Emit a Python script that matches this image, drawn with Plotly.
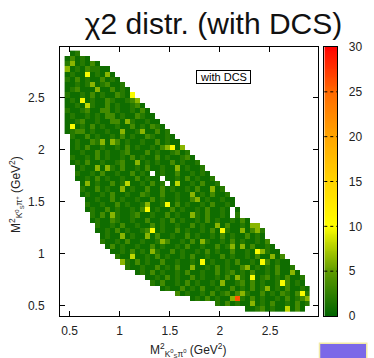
import plotly.graph_objects as go

# ---------------- data ----------------
# binning of the Dalitz histogram (GeV^2)
x_first_bin = 0.45
y_first_bin = 0.45
bin_width = 0.05
n_cols = 49
n_rows = 50          # row 0 = top row (2.90-2.95)

# occupied column range [start, end] for each row (top -> bottom)
row_start = [1, 0, 0, 0, 0, 0, 0, 0, 0, 0,
             0, 0, 0, 0, 0, 0, 1, 1, 1, 1,
             1, 1, 2, 2, 2, 3, 3, 3, 4, 4,
             4, 5, 5, 6, 6, 7, 7, 8, 9, 10,
             11, 12, 14, 16, 17, 19, 22, 25, 30, 36]
row_end = [2, 4, 6, 8, 9, 10, 11, 12, 13, 14,
           15, 16, 17, 18, 19, 20, 21, 22, 23, 24,
           25, 26, 27, 28, 29, 30, 31, 32, 33, 33,
           34, 34, 36, 38, 39, 39, 40, 41, 42, 43,
           44, 45, 46, 47, 47, 48, 48, 48, 48, 47]

# chi2 level codes per cell, relative to row start
level_value = {'0': 0.8, '1': 2.0, '2': 3.5, '3': 6.3, '4': 8.0, '5': 9.8, 'R': 26.0}
texture = [
    "01",
    "02010",
    "1001020",
    "001021100",
    "0100001010",
    "10201002010",
    "001010012001",
    "0120001002010",
    "10010201002100",
    "010001002100120",
    "0010010020100120",
    "10012002201001020",
    "010010102201002100",
    "0012001002200100100",
    "00010201001002010210",
    "012201001000001000201",
    "100201001020100210010",
    "0100210002010010020100",
    "01020010010201001020000",
    "001002010012000201001201",
    "1001020100102010020100120",
    "01020010012000010100201001",
    "01000001020010200100001001",
    "100102001002010001002001010",
    "0010201001002010000010201001",
    "0001002010001020100000102001",
    "10020100001002002010010200001",
    "010010200100210020010000102001",
    "001002010010020100100200100100",
    "100100201001000100201001020010",
    "0100201001020010020100102001000",
    "102001001200100201000102001001",
    "01002100100200102010010201001020",
    "100102001002010010020100102001002",
    "0010201001200100201001020010010201",
    "010020100102001002010010201002010",
    "1001020010010200102001001020100102",
    "0201001002010010200100201001020010",
    "0010201001002010010201002001020100",
    "1002001020100102001002010010200102",
    "0102010020010010201001020010020100",
    "1001002010200100102010020010102001",
    "010201001020010020120102001020010",
    "00102010020100102001020120102001",
    "1020010201001020012020100102010",
    "010020102001002010201201020010",
    "201001020120201002010210201",
    "010201002010201001020120",
    "1020100201020010201",
    "001201001020",
]

# notable cells (row, column, code); ' ' = empty bin
special_cells = [
    (1, 1, '2'), (2, 1, '3'), (3, 0, '3'), (4, 4, '5'), (4, 8, '3'), (6, 5, '3'),
    (7, 6, '3'), (8, 13, '5'), (9, 3, '5'), (9, 14, '3'), (10, 4, '4'), (13, 12, '3'),
    (14, 1, '5'), (15, 11, '3'), (15, 15, '3'), (17, 7, '3'), (17, 9, '3'),
    (18, 20, '3'), (18, 21, '5'), (18, 23, '3'), (21, 14, '3'), (22, 6, '3'),
    (22, 8, '3'), (22, 22, '3'), (23, 17, ' '), (24, 19, ' '), (25, 20, ' '),
    (25, 4, '3'), (25, 12, '4'), (25, 22, '4'), (26, 11, '3'), (26, 29, '3'),
    (27, 25, '3'), (28, 26, '3'), (29, 16, '3'), (29, 20, '5'), (30, 16, '5'),
    (30, 33, ' '), (31, 33, ' '), (31, 9, '3'), (31, 25, '3'), (33, 11, '2'),
    (33, 30, '3'), (33, 37, '3'), (33, 38, '3'), (34, 17, '5'), (34, 31, '5'),
    (34, 35, '3'), (34, 38, '3'), (35, 11, '3'), (35, 16, '3'), (36, 19, '3'),
    (36, 27, '3'), (37, 33, '3'), (37, 35, '3'), (38, 17, '3'), (38, 38, '5'),
    (38, 39, '3'), (39, 13, '4'), (39, 41, '3'), (40, 11, '3'), (40, 27, '5'),
    (40, 39, '5'), (41, 25, '3'), (41, 36, '3'), (42, 45, '3'), (43, 34, '3'),
    (43, 37, '5'), (44, 31, '3'), (44, 43, '5'), (45, 40, '3'), (46, 35, '3'),
    (46, 47, '5'), (47, 33, '3'), (47, 34, 'R'), (47, 48, '3'), (48, 37, '3'),
    (49, 44, '4'),
]

x_ticks = [0.5, 1, 1.5, 2, 2.5]
x_tick_text = ["0.5", "1", "1.5", "2", "2.5"]
y_ticks = [0.5, 1, 1.5, 2, 2.5]
y_tick_text = ["0.5", "1", "1.5", "2", "2.5"]
cb_ticks = [0, 5, 10, 15, 20, 25, 30]
cb_tick_text = ["0", "5", "10", "15", "20", "25", "30"]
cb_min, cb_max = 0, 30

title_text = "χ2 distr. (with DCS)"
key_text = "with DCS"
x_title = "M<sup>2</sup><sub>K<sup>0</sup><sub>S</sub>π<sup>0</sup></sub> (GeV<sup>2</sup>)"
y_title = "M<sup>2</sup><sub>K<sup>0</sup><sub>S</sub>π<sup>+</sup></sub> (GeV<sup>2</sup>)"

# ---------------- build grid ----------------
grid = [[None] * n_cols for _ in range(n_rows)]
for j in range(n_rows):
    s, e = row_start[j], row_end[j]
    t = texture[j]
    for k in range(s, e + 1):
        i = k - s
        c = t[i] if i < len(t) else '0'
        grid[j][k] = level_value.get(c)
for (j, k, c) in special_cells:
    grid[j][k] = level_value.get(c) if c != ' ' else None

x_centers = [round(x_first_bin + bin_width * (k + 0.5), 4) for k in range(n_cols)]
# y: bottom -> top
y_centers = [round(y_first_bin + bin_width * (r + 0.5), 4) for r in range(n_rows)]
z = [grid[n_rows - 1 - r] for r in range(n_rows)]

colorscale = [
    [0.0, "rgb(0,100,0)"],
    [1 / 6, "rgb(95,155,0)"],
    [2 / 6, "rgb(255,255,0)"],
    [3 / 6, "rgb(255,212,0)"],
    [4 / 6, "rgb(255,165,0)"],
    [5 / 6, "rgb(255,105,0)"],
    [1.0, "rgb(255,0,0)"],
]

# ---------------- figure ----------------
W, H = 374, 358
L, R, T, B = 60, 24, 47, 42
PW, PH = W - L - R, H - T - B


def pxx(px):
    return (px - L) / PW


def pyy(py):
    return (H - B - py) / PH


fig = go.Figure()
fig.add_trace(go.Heatmap(
    x=x_centers, y=y_centers, z=z, zmin=cb_min, zmax=cb_max,
    colorscale=colorscale, showscale=False, hoverinfo="skip",
    xaxis="x", yaxis="y",
))

# colour bar drawn as its own small heatmap
cb_levels = [round(0.05 + 0.1 * i, 3) for i in range(300)]
fig.add_trace(go.Heatmap(
    x=[0], y=cb_levels, z=[[v] for v in cb_levels], zmin=cb_min, zmax=cb_max,
    colorscale=colorscale, showscale=False, hoverinfo="skip",
    xaxis="x2", yaxis="y2",
))

tick_font = dict(family="Liberation Sans, Arial, sans-serif", size=12, color="#222")
axis_common = dict(
    showgrid=False, zeroline=False, showline=True, linecolor="black", linewidth=1,
    ticks="inside", ticklen=5, tickwidth=1, tickcolor="black", mirror="ticks",
    tickfont=tick_font,
)

fig.update_layout(
    width=W, height=H,
    margin=dict(l=L, r=R, t=T, b=B, pad=0),
    paper_bgcolor="white", plot_bgcolor="white",
    showlegend=False,
    xaxis=dict(domain=[0, pxx(329)], range=[0.404, 2.978], tickvals=x_ticks,
               ticktext=x_tick_text, anchor="y", ticklabelstandoff=4, **axis_common),
    yaxis=dict(domain=[0, 1], range=[0.404, 2.985], tickvals=y_ticks,
               ticktext=y_tick_text, anchor="x", ticklabelstandoff=12, **axis_common),
    xaxis2=dict(domain=[pxx(335.7), pxx(349.3)], range=[-0.5, 0.5], anchor="y2",
                showticklabels=False, ticks="", showgrid=False, zeroline=False,
                showline=True, mirror=True, linecolor="black", linewidth=1),
    yaxis2=dict(domain=[0, 1], range=[cb_min, cb_max], anchor="x2", side="right",
                tickvals=cb_ticks, ticktext=cb_tick_text, ticks="", showgrid=False,
                zeroline=False, showline=True, mirror=True, linecolor="black",
                linewidth=1, tickfont=tick_font, ticklabelstandoff=8),
    title=dict(text=title_text, x=213.5 / W, xref="container", xanchor="center",
               y=1 - 23 / H, yref="container", yanchor="middle",
               font=dict(family="Liberation Sans, Arial, sans-serif", size=30, color="#111")),
)

# dashed tick lines inside the colour bar
for v in cb_ticks[1:-1]:
    fig.add_shape(type="line", xref="x2 domain", yref="y2", x0=0, x1=1, y0=v, y1=v,
                  line=dict(color="black", width=1, dash="3px,3px"))

# key box
fig.add_annotation(text=key_text, xref="paper", yref="paper", x=pxx(231), y=pyy(76.7),
                   showarrow=False, xanchor="center", yanchor="middle",
                   font=dict(family="Liberation Sans, Arial, sans-serif", size=11, color="black"),
                   bordercolor="black", borderwidth=1, borderpad=0, bgcolor="white",
                   width=53, height=12)

# axis titles
fig.add_annotation(text=x_title, xref="paper", yref="paper", x=pxx(194.5), y=pyy(350),
                   showarrow=False, xanchor="center", yanchor="middle",
                   font=dict(family="Liberation Sans, Arial, sans-serif", size=12, color="#222"))
fig.add_annotation(text=y_title, xref="paper", yref="paper", x=pxx(14), y=pyy(194),
                   showarrow=False, xanchor="center", yanchor="middle", textangle=-90,
                   font=dict(family="Liberation Sans, Arial, sans-serif", size=12, color="#222"))

# corner of the purple slide element visible at the bottom right
fig.add_shape(type="rect", xref="paper", yref="paper", x0=pxx(330.7), x1=pxx(380),
              y0=pyy(343.3), y1=pyy(366), fillcolor="#7b68e8",
              line=dict(color="#f2eaa6", width=1.5), layer="above")

fig.write_html("out.html")
